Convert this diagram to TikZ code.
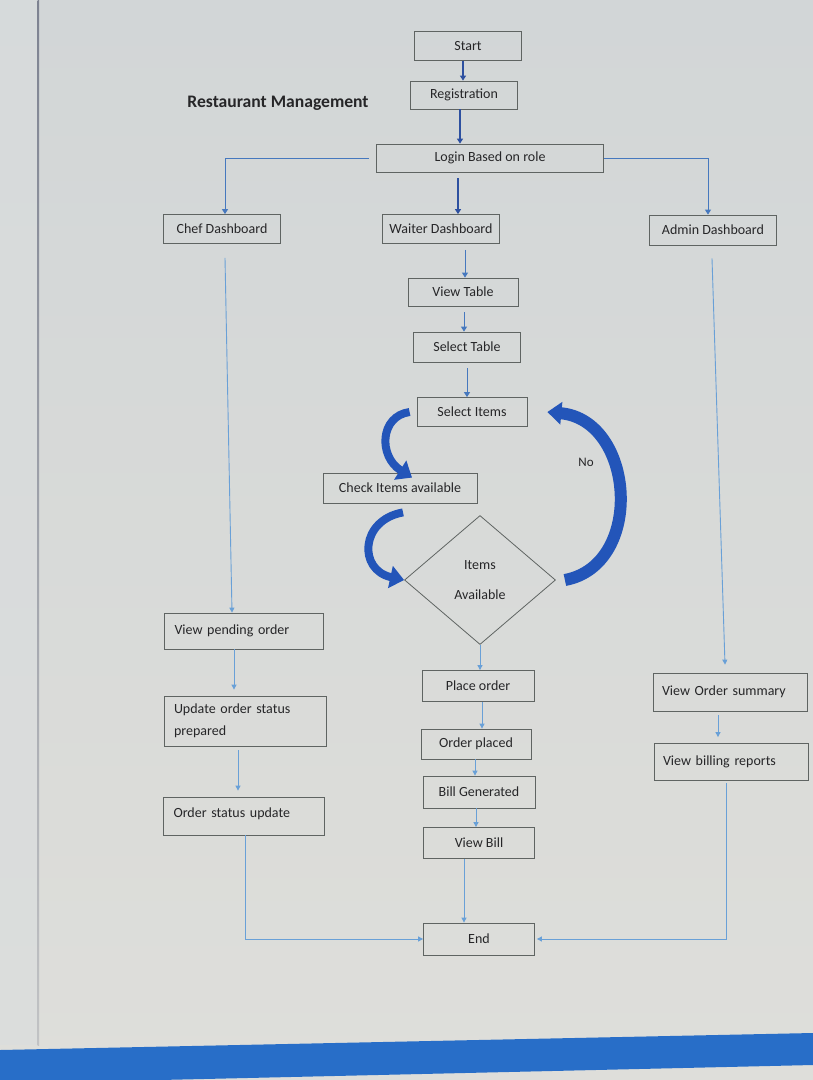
\documentclass[tikz,border=0pt]{standalone}
\usepackage{fontspec}
\setmainfont{Carlito}
\usetikzlibrary{arrows.meta,shapes.geometric}
\definecolor{bgtop}{RGB}{210,214,215}
\definecolor{bgbot}{RGB}{222,222,218}
\definecolor{bgl}{RGB}{218,221,222}
\definecolor{edge}{RGB}{125,130,145}
\definecolor{txt}{RGB}{38,38,40}
\definecolor{boxc}{RGB}{95,100,98}
\definecolor{dkblue}{RGB}{45,80,160}
\definecolor{mdblue}{RGB}{70,120,190}
\definecolor{ltblue}{RGB}{105,160,215}
\definecolor{arrblue}{RGB}{35,85,185}
\definecolor{barblue}{RGB}{40,110,200}
\tikzset{
  box/.style={draw=boxc, line width=0.8pt, text=txt, font=\fontsize{14}{17}\selectfont, inner sep=2pt},
  lbox/.style={box, align=left},
  darr/.style={draw=dkblue, line width=1.3pt, -{Triangle[width=6pt,length=5pt]}},
  marr/.style={draw=mdblue, line width=1pt, -{Triangle[width=6pt,length=5pt]}},
  larr/.style={draw=ltblue, line width=0.9pt, -{Triangle[width=5pt,length=5pt]}},
  bigarr/.style={draw=arrblue, line cap=butt, -{Triangle[width=22pt,length=14pt]}},
}
\begin{document}
\begin{tikzpicture}[x=1pt,y=-1pt]
\useasboundingbox (0,0) rectangle (813,1080);
\shade[top color=bgtop, bottom color=bgbot] (0,0) rectangle (813,1080);
\fill[bgl, opacity=0.6] (0,0) rectangle (38,1045);
\shade[top color=edge, bottom color=edge!30!bgbot] (37.5,0) rectangle (39,1045);
\fill[barblue] (0,1050) -- (813,1033) -- (813,1065) -- (160,1080) -- (0,1080) -- cycle;

\node[text=txt, font=\bfseries\fontsize{17.6}{20}\selectfont] (title) at (278,103) {Restaurant Management};

\node[box, minimum width=107pt, minimum height=29pt] (start) at (468,46) {Start};
\node[box, minimum width=107pt, minimum height=28pt] (reg) at (464,95) {Registration};
\node[box, minimum width=227pt, minimum height=28pt] (login) at (490,158) {Login Based on role};
\node[box, minimum width=117pt, minimum height=29pt] (chef) at (222,229) {Chef Dashboard};
\node[box, minimum width=117pt, minimum height=29pt] (waiter) at (441,229) {Waiter Dashboard};
\node[box, minimum width=127pt, minimum height=30pt] (admin) at (713,230) {Admin Dashboard};
\node[box, minimum width=110pt, minimum height=28pt] (vtable) at (463,292) {View Table};
\node[box, minimum width=107pt, minimum height=30pt] (stable) at (467,347) {Select Table};
\node[box, minimum width=110pt, minimum height=29pt] (sitems) at (472,412) {Select Items};
\node[box, minimum width=154pt, minimum height=30pt] (check) at (400,488) {Check Items available};
\node[diamond, draw=boxc, line width=0.8pt, minimum width=151pt, minimum height=129pt, inner sep=0pt, text=txt, font=\fontsize{14}{30}\selectfont, align=center] (dia) at (480,580) {Items\\Available};
\node[box, minimum width=112pt, minimum height=31pt] (place) at (478,686) {Place order};
\node[box, minimum width=110pt, minimum height=30pt] (oplaced) at (476,744) {Order placed};
\node[box, minimum width=112pt, minimum height=32pt] (bill) at (479,792) {Bill Generated};
\node[box, minimum width=111pt, minimum height=31pt] (vbill) at (479,843) {View Bill};
\node[box, minimum width=111pt, minimum height=32pt] (end) at (479,939) {End};

\node[lbox, text width=151pt, minimum height=36pt, inner sep=4pt, font=\fontsize{14}{22}\selectfont] (pending) at (244,631) {\hspace*{6pt}View pending order};
\node[lbox, text width=154pt, minimum height=50pt, inner sep=4pt, font=\fontsize{14}{22}\selectfont] (update) at (245,721) {\hspace*{6pt}Update order status\\\hspace*{6pt}prepared};
\node[lbox, text width=153pt, minimum height=38pt, inner sep=4pt, font=\fontsize{14}{22}\selectfont] (osu) at (244,816) {\hspace*{6pt}Order status update\vspace{4pt}};
\node[lbox, text width=146pt, minimum height=38pt, inner sep=4pt, font=\fontsize{14}{22}\selectfont] (vos) at (730,692) {\hspace*{5pt}View Order summary};
\node[lbox, text width=146pt, minimum height=37pt, inner sep=4pt, font=\fontsize{14}{22}\selectfont] (vbr) at (731,762) {\hspace*{5pt}View billing reports};

\node[text=txt, font=\fontsize{13}{15}\selectfont] (no) at (586,462) {No};

% top connectors
\draw[darr] ([xshift=-5pt]start.south) -- ([xshift=-5pt]start.south |- reg.north);
\draw[darr] ([xshift=-4pt]reg.south) -- ([xshift=-4pt]reg.south |- login.north);
\draw[darr] ([xshift=-32pt,yshift=-6pt]login.south) -- ([xshift=-32pt]login.south |- waiter.north);
\draw[marr] ([xshift=-7pt]login.west) -| ([xshift=3pt]chef.north);
\draw[marr] (login.east) -| ([xshift=-5pt]admin.north);
\draw[marr] ([xshift=24pt,yshift=-6pt]waiter.south) -- ([xshift=24pt]waiter.south |- vtable.north);
\draw[marr] ([xshift=1pt,yshift=-6pt]vtable.south) -- ([xshift=1pt]vtable.south |- stable.north);
\draw[marr] ([xshift=0pt,yshift=-6pt]stable.south) -- ([xshift=0pt]stable.south |- sitems.north);

% side columns
\draw[larr] ([xshift=3pt,yshift=-14pt]chef.south) -- ([xshift=-12pt]pending.north);
\draw[larr] ([xshift=-1pt,yshift=-13pt]admin.south) -- ([xshift=-5pt,yshift=8pt]vos.north);
\draw[larr] ([xshift=-10pt]pending.south) -- ([xshift=-10pt,yshift=6pt]pending.south |- update.north);
\draw[larr] ([xshift=-7pt,yshift=-4pt]update.south) -- ([xshift=-7pt,yshift=6pt]update.south |- osu.north);
\draw[larr] ([xshift=-12pt,yshift=-4pt]vos.south) -- ([xshift=-12pt,yshift=6pt]vos.south |- vbr.north);
\draw[larr] ([xshift=1pt]osu.south) |- (end.west);
\draw[larr] ([xshift=-5pt,yshift=-2pt]vbr.south) |- ([xshift=2pt]end.east);

% middle column
\draw[larr] (dia.south) -- (dia.south |- place.north);
\draw[larr] ([xshift=4pt]place.south) -- ([xshift=4pt]place.south |- oplaced.north);
\draw[larr] ([xshift=-1pt]oplaced.south) -- ([xshift=-1pt]oplaced.south |- bill.north);
\draw[larr] ([xshift=-3pt]bill.south) -- ([xshift=-3pt]bill.south |- vbill.north);
\draw[larr] ([xshift=-15pt]vbill.south) -- ([xshift=-15pt]vbill.south |- end.north);

% curved block arrows
\draw[bigarr, line width=8pt] ([xshift=-7pt]sitems.west) .. controls (380,416) and (378,456) .. ([xshift=12pt,yshift=-5pt]check.north);
\draw[bigarr, line width=8pt] ([xshift=3pt,yshift=-9pt]check.south) .. controls (360,520) and (358,570) .. (dia.west);
\draw[bigarr, line width=12pt] ([xshift=9pt]dia.east) .. controls (645,565) and (635,420) .. ([xshift=20pt]sitems.east);
\end{tikzpicture}
\end{document}
